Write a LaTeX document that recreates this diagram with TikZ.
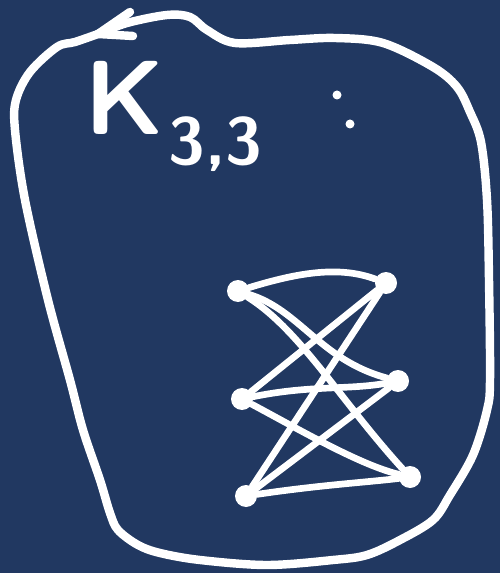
\documentclass[tikz,border=0pt]{standalone}
\usepackage{fontspec}
\usepackage{tikz}
\usetikzlibrary{arrows.meta,positioning,calc}
\definecolor{boardblue}{RGB}{33,56,97}
\tikzset{
  ink/.style={white, line width=4.8pt, line cap=round, line join=round},
  edge/.style={white, line width=3.8pt, line cap=round},
  vtx/.style={circle, fill=white, inner sep=0pt, minimum size=0.44cm},
}

\begin{document}
\begin{tikzpicture}[x=0.02cm, y=-0.02cm]
%---------------- board ----------------
  \fill[boardblue] (0,0) rectangle (500,573);
  \useasboundingbox (0,0) rectangle (500,573);
%---------------- loop round everything ----------------
  \coordinate (tip) at (98,34);
  \draw[ink] plot[smooth, tension=0.55] coordinates {
    (98,34) (127,23) (167,15) (190,17) (207,30) (235,43) (290,40)
    (335,38) (383,43) (433,67) (457,87) (470,112) (481,142) (487,200)
    (489,280) (490,380) (487,410) (473,455) (450,495) (433,520)
    (400,540) (367,555) (333,560) (267,565) (200,560) (160,553)
    (138,545) (118,530) (110,513) (100,480) (83,430) (70,380)
    (48,300) (25,200) (15,130) (16,100) (30,72) (57,47) (75,42) (98,34)};
  \draw[ink] (tip) -- (130,12);
  \draw[ink] (tip) -- (133,36);
%---------------- label ----------------
  \node[text=white, anchor=base west, inner sep=0pt,
        font=\sffamily\bfseries\fontsize{60}{60}\selectfont] (name) at (84,135)
       {K\raisebox{-17pt}{\fontsize{38}{38}\selectfont\kern2pt 3,3}};
  \fill[white] (337,95) circle (4.5);
  \fill[white] (350,124) circle (4.5);
%---------------- graph ----------------
  \node[vtx] (L1) at (238,291) {};
  \node[vtx] (L2) at (242,399) {};
  \node[vtx] (L3) at (246,496) {};
  \node[vtx] (R1) at (386,283) {};
  \node[vtx] (R2) at (398,381) {};
  \node[vtx] (R3) at (410,477) {};
  % from the left column
  \draw[edge] (L1) .. controls (300,272) and (340,266) .. (R1);
  \draw[edge] (L1) .. controls (300,310) and (320,360) .. (R2);
  \draw[edge] (L1) .. controls (300,330) and (340,400) .. (R3);
  \draw[edge] (L2) -- (R1);
  \draw[edge] (L2) .. controls (310,385) and (350,390) .. (R2);
  \draw[edge] (L2) .. controls (300,430) and (360,465) .. (R3);
  \draw[edge] (L3) -- (R1);
  \draw[edge] (L3) -- (R2);
  \draw[edge] (L3) .. controls (320,485) and (370,482) .. (R3);
\end{tikzpicture}
\end{document}
